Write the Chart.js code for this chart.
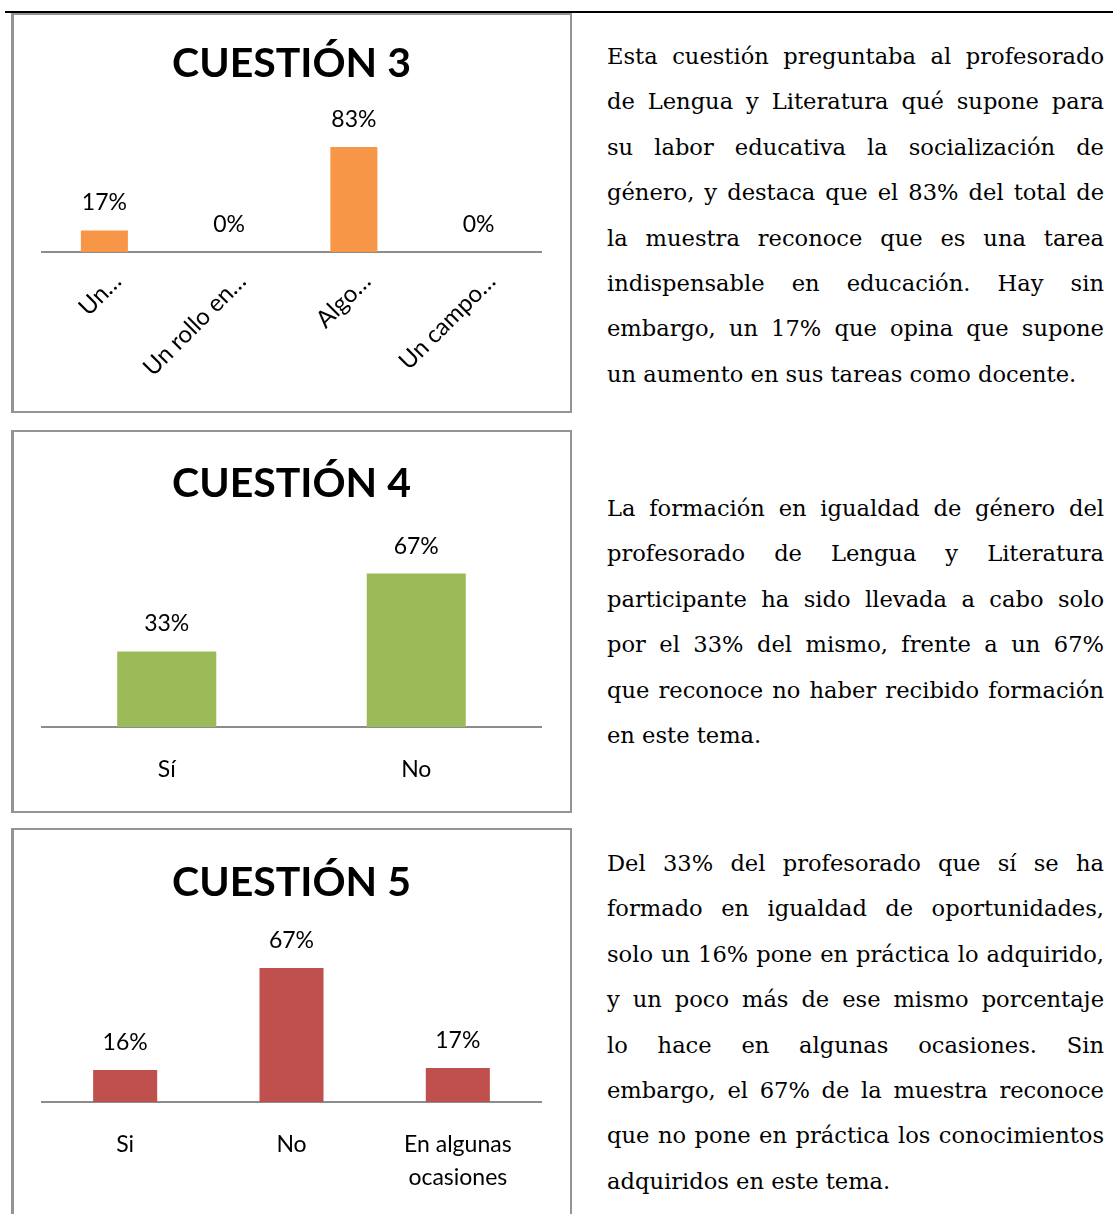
<!DOCTYPE html>
<html>
<head>
<meta charset="utf-8">
<script src="https://cdn.jsdelivr.net/npm/chart.js@4/dist/chart.umd.min.js"></script>
<style>
  html, body { margin: 0; padding: 0; background: #fff; }
  body { width: 1113px; height: 1214px; position: relative; overflow: hidden; }
  .rule { position: absolute; left: 5px; top: 11px; width: 1108px; height: 2px; background: #000; }
  .box { position: absolute; left: 11px; width: 561px; box-sizing: border-box;
         border: 2px solid #949494; border-left-width: 3px; }
  .cv { position: absolute; left: 14px; }
  .serif { font-family: "DejaVu Serif", serif; }
  .para { position: absolute; left: 607px; width: 497px; color: #000; line-height: 45.4px; }
  .ln { white-space: nowrap; text-align: justify; text-align-last: justify; }
  .ln.last { text-align: left; text-align-last: left; }
  #meas { position: absolute; left: 0; top: -500px; white-space: nowrap; visibility: hidden; }
</style>
</head>
<body>
<div class="rule"></div>
<div class="box" style="top:13px;height:400px;"></div>
<div class="box" style="top:430px;height:383px;"></div>
<div class="box" style="top:828px;height:400px;"></div>

<canvas id="c1" class="cv" width="554" height="396" style="top:15px;"></canvas>
<canvas id="c2" class="cv" width="554" height="379" style="top:432px;"></canvas>
<canvas id="c3" class="cv" width="554" height="384" style="top:830px;"></canvas>

<div class="para serif" id="p1" style="top:34px;"></div>
<div class="para serif" id="p2" style="top:486px;"></div>
<div class="para serif" id="p3" style="top:841px;"></div>
<span id="meas" class="serif"></span>

<script>
// ---------- data ----------
const titles = ["CUESTIÓN 3", "CUESTIÓN 4", "CUESTIÓN 5"];

const q3Categories = ["Un…", "Un rollo en…", "Algo…", "Un campo…"];
const q3Values = [17, 0, 83, 0];

const q4Categories = ["Sí", "No"];
const q4Values = [33, 67];

const q5Categories = ["Si", "No", ["En algunas", "ocasiones"]];
const q5Values = [16, 67, 17];

const q3Color = "#F79646";
const q4Color = "#9BBB59";
const q5Color = "#C0504D";

const para1 = [
  "Esta cuestión preguntaba al profesorado",
  "de Lengua y Literatura qué supone para",
  "su labor educativa la socialización de",
  "género, y destaca que el 83% del total de",
  "la muestra reconoce que es una tarea",
  "indispensable en educación. Hay sin",
  "embargo, un 17% que opina que supone",
  "un aumento en sus tareas como docente."
];
const para2 = [
  "La formación en igualdad de género del",
  "profesorado de Lengua y Literatura",
  "participante ha sido llevada a cabo solo",
  "por el 33% del mismo, frente a un 67%",
  "que reconoce no haber recibido formación",
  "en este tema."
];
const para3 = [
  "Del 33% del profesorado que sí se ha",
  "formado en igualdad de oportunidades,",
  "solo un 16% pone en práctica lo adquirido,",
  "y un poco más de ese mismo porcentaje",
  "lo hace en algunas ocasiones. Sin",
  "embargo, el 67% de la muestra reconoce",
  "que no pone en práctica los conocimientos",
  "adquiridos en este tema."
];

// ---------- text paragraphs ----------
function buildText() {
  const meas = document.getElementById("meas");
  const tw = (t, s, ls) => {
    meas.style.fontSize = s + "px";
    meas.style.letterSpacing = (ls || 0) + "px";
    meas.textContent = t;
    return meas.getBoundingClientRect().width;
  };
  // size chosen so the closing line of the first paragraph spans its measured width
  const closing = para1[para1.length - 1];
  let size = 21;
  for (let k = 0; k < 4; k++) size = size * 468 / tw(closing, size);
  size = Math.round(size * 10) / 10;
  const maxW = 496;
  [["p1", para1], ["p2", para2], ["p3", para3]].forEach(([id, lines]) => {
    const el = document.getElementById(id);
    el.style.fontSize = size + "px";
    lines.forEach((t, i) => {
      const d = document.createElement("div");
      d.className = "ln" + (i === lines.length - 1 ? " last" : "");
      d.textContent = t;
      let ls = 0;
      for (let k = 0; k < 4; k++) {
        const w = tw(t, size, ls);
        if (w <= maxW) break;
        ls += (maxW - w) / t.length;
      }
      if (ls) d.style.letterSpacing = ls + "px";
      el.appendChild(d);
    });
  });
}

// ---------- value label plugin ----------
const valueLabels = {
  id: "valueLabels",
  afterDatasetsDraw(chart) {
    const ctx = chart.ctx;
    ctx.save();
    ctx.font = '23px Lato';
    ctx.fillStyle = "#000";
    ctx.textAlign = "center";
    ctx.textBaseline = "alphabetic";
    chart.data.datasets.forEach((ds, di) => {
      chart.getDatasetMeta(di).data.forEach((bar, i) => {
        ctx.fillText(ds.data[i] + "%", bar.x, bar.y - 20);
      });
    });
    ctx.restore();
  }
};

function makeChart(id, title, labels, values, color, cfg) {
  return new Chart(document.getElementById(id), {
    type: "bar",
    data: {
      labels: labels,
      datasets: [{
        data: values,
        backgroundColor: color,
        borderWidth: 0,
        barPercentage: cfg.barPct,
        categoryPercentage: 1
      }]
    },
    options: {
      responsive: false,
      animation: false,
      events: [],
      layout: { padding: { left: 28, right: 27, top: 0, bottom: 0 } },
      plugins: {
        legend: { display: false },
        tooltip: { enabled: false },
        title: {
          display: true,
          text: title,
          color: "#000",
          font: { family: "Lato", size: 41, weight: "bold", lineHeight: 1.2 },
          padding: { top: cfg.pt, bottom: cfg.pb }
        }
      },
      scales: {
        y: { display: false, min: 0, max: cfg.max },
        x: {
          grid: { display: false },
          border: { display: true, color: "#8c8c8c", width: 2 },
          ticks: {
            color: "#000",
            font: { family: "Lato", size: cfg.fs, lineHeight: cfg.lh },
            padding: cfg.tickPad,
            labelOffset: cfg.labelOffset,
            minRotation: cfg.rot,
            maxRotation: cfg.rot,
            autoSkip: false
          },
          afterFit(scale) { scale.height = cfg.xh; }
        }
      }
    },
    plugins: [valueLabels]
  });
}

function draw() {
  buildText();
  makeChart("c1", titles[0], q3Categories, q3Values, q3Color,
    { barPct: 0.377, pt: 24.4, pb: 36.9, max: 100, fs: 24, lh: 1.2, tickPad: 7, labelOffset: 13, rot: 45, xh: 159 });
  makeChart("c2", titles[1], q4Categories, q4Values, q4Color,
    { barPct: 0.397, pt: 27.4, pb: 35.2, max: 80, fs: 23, lh: 1.2, tickPad: 21, labelOffset: 0, rot: 0, xh: 84 });
  makeChart("c3", titles[2], q5Categories, q5Values, q5Color,
    { barPct: 0.385, pt: 28.4, pb: 34.4, max: 80, fs: 23, lh: 1.45, tickPad: 18, labelOffset: 0, rot: 0, xh: 112 });
}

if (document.fonts && document.fonts.load) {
  Promise.all([
    document.fonts.load('23px Lato'),
    document.fonts.load('bold 41px Lato'),
    document.fonts.load('20px "DejaVu Serif"')
  ]).then(draw, draw);
} else {
  draw();
}
</script>
</body>
</html>
